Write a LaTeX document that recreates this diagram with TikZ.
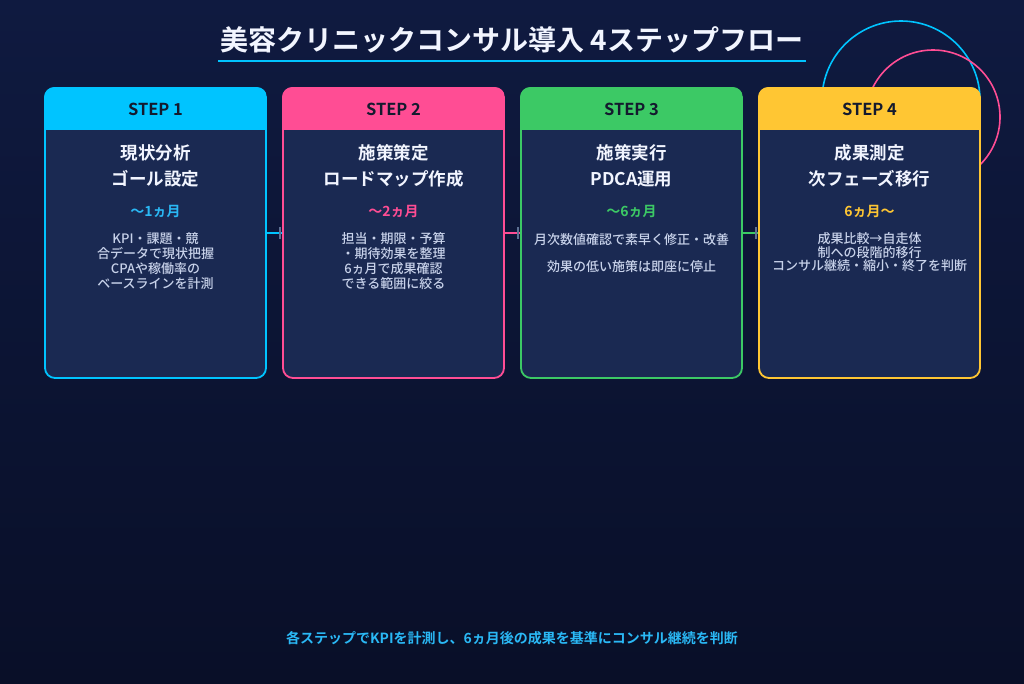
\documentclass[tikz,border=0pt]{standalone}
\usepackage{fontspec}
\setmainfont{Noto Sans CJK JP}[BoldFont={Noto Sans CJK JP Bold}]
\newfontfamily\medfont{Noto Sans CJK JP Medium}
\definecolor{bgtop}{HTML}{0F1A40}
\definecolor{bgbot}{HTML}{090F28}
\definecolor{bodyc}{HTML}{1A2952}
\definecolor{cyanc}{HTML}{00C4FF}
\definecolor{pinkc}{HTML}{FF4D94}
\definecolor{greenc}{HTML}{3CC965}
\definecolor{yellowc}{HTML}{FFC633}
\definecolor{cyantx}{HTML}{2AB8F5}
\definecolor{desctx}{HTML}{C8D2EA}
\definecolor{titletx}{HTML}{F2F5FF}
\definecolor{hdrtx}{HTML}{141A2E}
\definecolor{tickc}{HTML}{5E7194}
\tikzset{
  cardbody/.style={draw, fill=bodyc, line width=1.8pt, rounded corners=10pt,
    minimum width=221pt, minimum height=290pt, inner sep=0pt},
  steptxt/.style={text=hdrtx, font=\fontsize{16.5}{18}\selectfont\bfseries},
  cardtitle/.style={text=titletx, font=\fontsize{17.5}{26}\selectfont\bfseries, align=center, inner sep=0pt},
  durtxt/.style={font=\fontsize{14}{16}\selectfont\bfseries, inner sep=0pt},
  desc/.style={text=desctx, font=\fontsize{13}{15}\medfont, align=center, inner sep=0pt},
  conn/.style={line width=2pt},
  tickmark/.style={draw=tickc, line width=1.6pt},
}
\newcommand{\mkcard}[4]{%
  \node[cardbody, draw=#3] (#1) at (#2,233) {};
  \begin{scope}
    \clip[rounded corners=10pt] (#1.north west) rectangle (#1.south east);
    \fill[#3] (#1.north west) rectangle ([yshift=-43pt]#1.north east);
  \end{scope}
  \node[steptxt] (#1h) at (#2,109) {#4};
}
\begin{document}
\begin{tikzpicture}[x=1pt,y=-1pt]
\useasboundingbox (0,0) rectangle (1024,683);
\shade[top color=bgtop, bottom color=bgbot] (0,0) rectangle (1024,683);
% decorative circles
\draw[cyanc, line width=1.6pt] (901,100) circle (79);
\draw[pinkc, line width=1.6pt] (933,117) circle (67);
% title
\node[text=titletx, font=\fontsize{28}{30}\selectfont\bfseries, inner sep=0pt] (title) at (512,40) {美容クリニックコンサル導入 4ステップフロー};
\coordinate (ul1) at (218,61);
\coordinate (ul2) at (806,61);
\draw[cyanc, line width=2pt] (ul1) -- (ul2);
% cards
\mkcard{c1}{155.5}{cyanc}{STEP 1}
\mkcard{c2}{393.5}{pinkc}{STEP 2}
\mkcard{c3}{631.5}{greenc}{STEP 3}
\mkcard{c4}{869.5}{yellowc}{STEP 4}
% card 1
\node[cardtitle] (t1) at (155.5,166) {現状分析\\ゴール設定};
\node[durtxt, text=cyantx] (d1) at (155.5,212) {〜1ヵ月};
\node[desc] (e1) at (155.5,261.5) {KPI・課題・競\\合データで現状把握\\CPAや稼働率の\\ベースラインを計測};
% card 2
\node[cardtitle] (t2) at (393.5,166) {施策策定\\ロードマップ作成};
\node[durtxt, text=pinkc] (d2) at (393.5,212) {〜2ヵ月};
\node[desc] (e2) at (393.5,261.5) {担当・期限・予算\\・期待効果を整理\\6ヵ月で成果確認\\できる範囲に絞る};
% card 3
\node[cardtitle] (t3) at (631.5,166) {施策実行\\PDCA運用};
\node[durtxt, text=greenc] (d3) at (631.5,212) {〜6ヵ月};
\node[desc] (e3a) at (631.5,240) {月次数値確認で素早く修正・改善};
\node[desc] (e3b) at (631.5,267) {効果の低い施策は即座に停止};
% card 4
\node[cardtitle] (t4) at (869.5,166) {成果測定\\次フェーズ移行};
\node[durtxt, text=yellowc] (d4) at (869.5,212) {6ヵ月〜};
\node[desc, font=\fontsize{13}{13.5}\medfont] (e4) at (869.5,252.5) {成果比較→自走体\\制への段階的移行\\コンサル継続・縮小・終了を判断};
% connectors
\draw[conn, cyanc] (c1.east) -- (c2.west);
\draw[tickmark] ([xshift=-2pt,yshift=-6pt]c2.west) -- ([xshift=-2pt,yshift=6pt]c2.west);
\draw[conn, pinkc] (c2.east) -- (c3.west);
\draw[tickmark] ([xshift=-2pt,yshift=-6pt]c3.west) -- ([xshift=-2pt,yshift=6pt]c3.west);
\draw[conn, greenc] (c3.east) -- (c4.west);
\draw[tickmark] ([xshift=-2pt,yshift=-6pt]c4.west) -- ([xshift=-2pt,yshift=6pt]c4.west);
% footer
\node[text=cyantx, font=\fontsize{14}{16}\selectfont\bfseries, inner sep=0pt] (foot) at (512,638) {各ステップでKPIを計測し、6ヵ月後の成果を基準にコンサル継続を判断};
\end{tikzpicture}
\end{document}
